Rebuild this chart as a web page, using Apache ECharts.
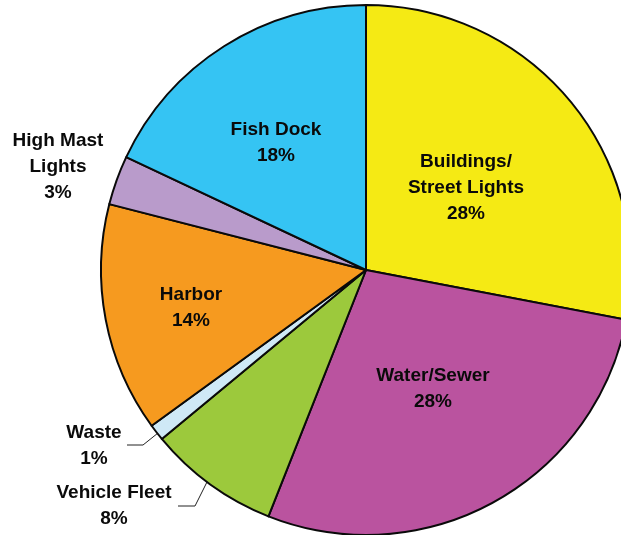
<!DOCTYPE html>
<html>
<head>
<meta charset="utf-8">
<script src="https://cdn.jsdelivr.net/npm/echarts@6/dist/echarts.min.js"></script>
<style>
  html, body { margin: 0; padding: 0; background: #ffffff; }
  #chart { width: 621px; height: 535px; }
</style>
</head>
<body>
<div id="chart"></div>
<script>
// Energy use share by department, clockwise from 12 o'clock
const categories = ['Buildings/\nStreet Lights', 'Water/Sewer', 'Vehicle Fleet', 'Waste', 'Harbor', 'High Mast\nLights', 'Fish Dock'];
const shares = [28, 28, 8, 1, 14, 3, 18];
const colors = ['#F5EA14', '#BA539F', '#9CC93C', '#CFE9F6', '#F69A1F', '#B99BCB', '#35C4F3'];

// Label placement (label block centre) and leader lines for the small slices
const labelSpots = [
  { x: 466, y: 188 },
  { x: 433, y: 389 },
  { x: 114, y: 506, line: [[207, 482], [195, 506], [178, 506]] },
  { x: 94,  y: 446, line: [[158, 433], [143, 445], [127, 445]] },
  { x: 191, y: 308 },
  { x: 58,  y: 167 },
  { x: 276, y: 143 }
];
const outsideSet = [2, 3, 5];

const chart = echarts.init(document.getElementById('chart'), null, { renderer: 'canvas' });

const data = categories.map((name, i) => {
  const outside = outsideSet.indexOf(i) >= 0;
  return {
    name: name,
    value: shares[i],
    itemStyle: { color: colors[i] },
    label: { position: outside ? 'outside' : 'inside' },
    labelLine: { show: !!labelSpots[i].line }
  };
});

chart.setOption({
  animation: false,
  backgroundColor: '#ffffff',
  series: [{
    type: 'pie',
    center: [366, 270],
    radius: 265,
    startAngle: 90,
    clockwise: true,
    avoidLabelOverlap: false,
    data: data,
    itemStyle: { borderColor: '#0a0a0a', borderWidth: 2 },
    label: {
      show: true,
      formatter: p => p.name + '\n' + p.value + '%',
      fontFamily: 'Liberation Sans, Arial, sans-serif',
      fontWeight: 'bold',
      fontSize: 19,
      lineHeight: 26,
      color: '#0a0a0a',
      align: 'center'
    },
    labelLine: {
      lineStyle: { color: '#222222', width: 1 }
    },
    labelLayout: function (params) {
      const s = labelSpots[params.dataIndex];
      const out = { x: s.x, y: s.y, align: 'center', verticalAlign: 'middle' };
      if (s.line) out.labelLinePoints = s.line;
      return out;
    }
  }]
});
</script>
</body>
</html>
